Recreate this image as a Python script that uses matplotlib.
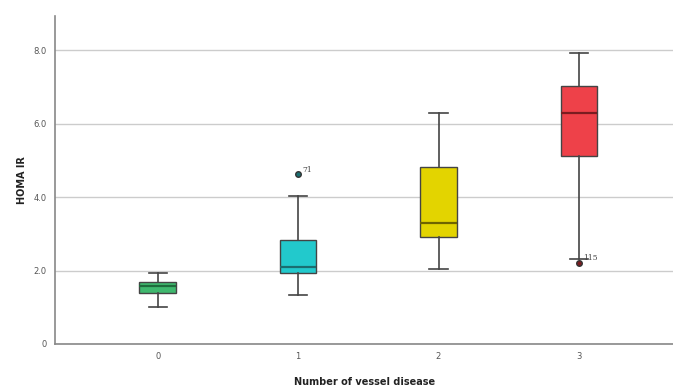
import matplotlib.pyplot as plt

groups = ['0', '1', '2', '3']
whislo = [1.0, 1.33, 2.03, 2.31]
q1 = [1.40, 1.93, 2.91, 5.12]
med = [1.57, 2.10, 3.30, 6.30]
q3 = [1.70, 2.83, 4.83, 7.02]
whishi = [1.92, 4.02, 6.30, 7.92]
fliers = [[], [4.62], [], [2.20]]
flier_labels = [[], ['71'], [], ['115']]
colors = ['#3FB86E', '#22C9CC', '#E3D400', '#EE4149']
median_colors = ['#1E6B3C', '#1A6E70', '#6F6400', '#7A1C20']

stats = []
for i in range(len(groups)):
    stats.append(dict(whislo=whislo[i], q1=q1[i], med=med[i], q3=q3[i],
                      whishi=whishi[i], fliers=fliers[i], label=groups[i]))

fig = plt.figure(figsize=(6.73, 3.9), dpi=100)
ax = fig.add_axes([0.082, 0.118, 0.918, 0.841])

pos = list(range(len(groups)))
bp = ax.bxp(stats, positions=pos, widths=0.26, patch_artist=True,
            boxprops=dict(linewidth=1.0, edgecolor='#444444'),
            whiskerprops=dict(color='#444444', linewidth=1.2),
            capprops=dict(color='#444444', linewidth=1.2),
            medianprops=dict(linewidth=1.6),
            flierprops=dict(marker='o', markersize=4, markeredgecolor='#333333'),
            zorder=3)

for i in range(len(groups)):
    bp['boxes'][i].set_facecolor(colors[i])
    bp['medians'][i].set_color(median_colors[i])
    bp['fliers'][i].set_markerfacecolor(median_colors[i])
    for v, lab in zip(fliers[i], flier_labels[i]):
        ax.annotate(lab, (pos[i], v), xytext=(3, 2), textcoords='offset points',
                    fontsize=5.5, color='#444444', family='DejaVu Serif')

ax.set_xlim(-0.73, 3.67)
ax.set_ylim(0, 8.93)
ax.set_yticks([0, 2, 4, 6, 8])
ax.set_yticklabels(['0', '2.0', '4.0', '6.0', '8.0'])
ax.set_xticks(pos)
ax.set_xticklabels(groups)
ax.tick_params(length=0, labelsize=6, colors='#555555', pad=6)
ax.yaxis.grid(True, color='#CCCCCC', linewidth=1.0, zorder=0)
ax.set_axisbelow(True)

for s in ['top', 'right']:
    ax.spines[s].set_visible(False)
for s in ['left', 'bottom']:
    ax.spines[s].set_color('#888888')
    ax.spines[s].set_linewidth(1.2)

ax.set_ylabel('HOMA IR', fontsize=7, fontweight='bold', color='#222222', labelpad=5)
ax.set_xlabel('Number of vessel disease', fontsize=7, fontweight='bold', color='#222222', labelpad=11)

plt.savefig('out.png', dpi=100)
